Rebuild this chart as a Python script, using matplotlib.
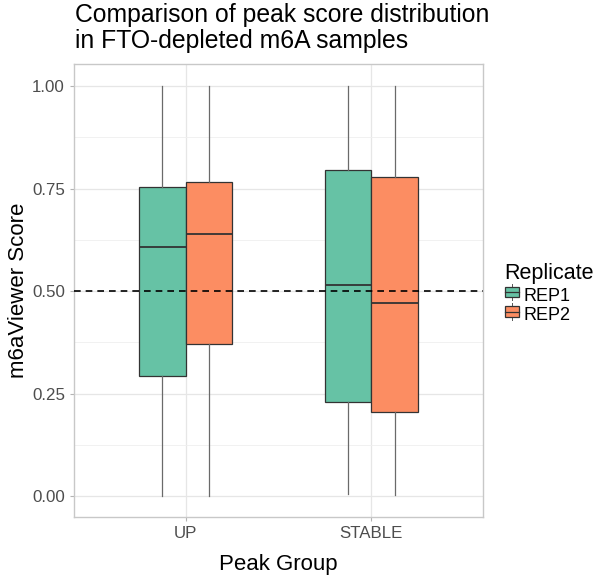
import matplotlib
matplotlib.use("Agg")
import matplotlib.pyplot as plt
from matplotlib.patches import Rectangle
from matplotlib.lines import Line2D
from matplotlib.legend_handler import HandlerBase

plt.rcParams['font.family'] = ['Liberation Sans', 'DejaVu Sans']

groups = ["UP", "STABLE"]
replicates = ["REP1", "REP2"]
colors = ["#66C2A5", "#FC8D62"]

# box stats, per replicate, per group
whislo = {"REP1": [0.000, 0.005], "REP2": [0.000, 0.003]}
q1 = {"REP1": [0.293, 0.230], "REP2": [0.371, 0.206]}
med = {"REP1": [0.607, 0.515], "REP2": [0.639, 0.471]}
q3 = {"REP1": [0.754, 0.795], "REP2": [0.766, 0.779]}
whishi = {"REP1": [1.000, 1.000], "REP2": [1.000, 1.000]}

yticks = [0.00, 0.25, 0.50, 0.75, 1.00]
threshold = 0.5


class BoxKeyHandler(HandlerBase):
    def __init__(self, color):
        super().__init__()
        self.color = color

    def create_artists(self, legend, orig, xd, yd, w, h, fontsize, trans):
        cx = xd + w / 2
        rect = Rectangle((xd + w * 0.05, yd + h * 0.15), w * 0.9, h * 0.7,
                         facecolor=self.color, edgecolor="#333333", lw=0.9, transform=trans)
        mline = Line2D([xd + w * 0.05, xd + w * 0.95], [yd + h / 2] * 2, color="#333333", lw=0.9, transform=trans)
        wl = Line2D([cx, cx], [yd - h * 0.05, yd + h * 0.15], color="#555555", lw=0.7, transform=trans)
        wh = Line2D([cx, cx], [yd + h * 0.85, yd + h * 1.05], color="#555555", lw=0.7, transform=trans)
        return [wl, wh, rect, mline]


fig = plt.figure(figsize=(6, 5.76), dpi=100)
ax = fig.add_axes([0.1233, 0.1024, 0.6817, 0.7866])

width = 0.25
for i, rep in enumerate(replicates):
    offset = (i - 0.5) * width
    stats = []
    for j, g in enumerate(groups):
        stats.append(dict(whislo=whislo[rep][j], q1=q1[rep][j], med=med[rep][j],
                          q3=q3[rep][j], whishi=whishi[rep][j], fliers=[]))
    positions = [j + 1 + offset for j in range(len(groups))]
    ax.bxp(stats, positions=positions, widths=width, showfliers=False, showcaps=False,
           patch_artist=True, manage_ticks=False,
           boxprops=dict(facecolor=colors[i], edgecolor="#333333", lw=0.9),
           medianprops=dict(color="#333333", lw=1.3),
           whiskerprops=dict(color="#6a6a6a", lw=0.9), zorder=3)

ax.axhline(threshold, color="black", ls=(0, (4, 3)), lw=1.2, zorder=4)

ax.set_xlim(0.4, 2.6)
ax.set_ylim(-0.051, 1.054)
ax.set_xticks([1, 2])
ax.set_xticklabels(groups)
ax.set_yticks(yticks)
ax.set_yticklabels([f"{v:.2f}" for v in yticks])
ax.set_yticks([0.125, 0.375, 0.625, 0.875], minor=True)

ax.grid(True, which="major", color="#e6e6e6", lw=0.9, zorder=0)
ax.grid(True, which="minor", axis="y", color="#efefef", lw=0.6, zorder=0)
ax.set_axisbelow(True)
ax.tick_params(axis="both", which="major", length=3, color="#b3b3b3", labelcolor="#4d4d4d", labelsize=12.2)
ax.tick_params(axis="y", which="minor", length=0)
for s in ax.spines.values():
    s.set_color("#c8c8c8")
    s.set_linewidth(1.0)

ax.set_xlabel("Peak Group", fontsize=16, color="black", labelpad=9)
ax.set_ylabel("m6aViewer Score", fontsize=16, color="black", labelpad=2)

fig.text(0.125, 0.995, "Comparison of peak score distribution\nin FTO-depleted m6A samples",
         fontsize=17.8, ha="left", va="top", linespacing=1.1)

handles = [Rectangle((0, 0), 1, 1) for _ in replicates]
leg = fig.legend(handles, replicates, title="Replicate", loc="center left",
                 bbox_to_anchor=(0.828, 0.49), frameon=False, fontsize=13,
                 title_fontsize=15.5, handlelength=0.85, handleheight=0.9,
                 handletextpad=0.25, labelspacing=0.1, borderaxespad=0,
                 handler_map={h: BoxKeyHandler(c) for h, c in zip(handles, colors)})
leg._legend_box.align = "left"
leg._legend_box.sep = 2

fig.savefig("out.png", dpi=100)
